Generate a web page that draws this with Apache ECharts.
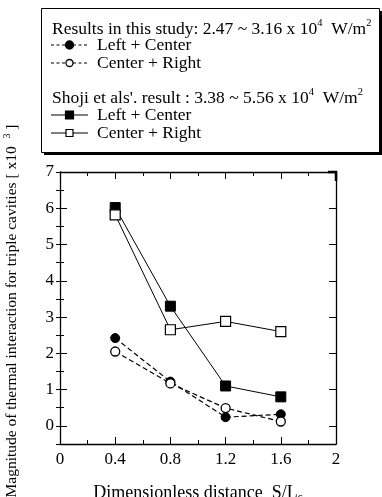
<!DOCTYPE html>
<html>
<head>
<meta charset="utf-8">
<style>
  html, body { margin: 0; padding: 0; background: #fff; }
  #chart { width: 382px; height: 497px; }
</style>
<script src="https://cdn.jsdelivr.net/npm/echarts@6/dist/echarts.min.js"></script>
</head>
<body>
<div id="chart"></div>
<script>
// distances S/Lc
const distances = [0.4, 0.8, 1.2, 1.6];
// this study
const studyLeftCenter = [2.42, 1.22, 0.24, 0.32];
const studyCenterRight = [2.05, 1.17, 0.49, 0.12];
// Shoji et al
const shojiLeftCenter = [6.02, 3.3, 1.1, 0.8];
const shojiCenterRight = [5.82, 2.65, 2.88, 2.6];
const yTicks = [0, 1, 2, 3, 4, 5, 6, 7];
const legendNames = ["Left + Center", "Center + Right"];

const FONT = "Liberation Serif";
const pairs = (ys) => distances.map((x, i) => [x, ys[i]]);

const chart = echarts.init(document.getElementById("chart"));

const tickBase = {
    inside: true,
    lineStyle: { color: "#000", width: 1 },
};
const minor = { show: true, splitNumber: 2, length: 4, lineStyle: { color: "#000", width: 1 } };
const axisLine = { onZero: false, lineStyle: { color: "#000", width: 1.3 } };

const supText = (str, top) => ({
    type: "text",
    left: 52,
    top: top,
    z: 3,
    style: {
        text: str,
        rich: {
            t: { fontFamily: FONT, fontSize: 17.5, fill: "#000", lineHeight: 20, verticalAlign: "bottom" },
            s: { fontFamily: FONT, fontSize: 10.5, fill: "#000", verticalAlign: "top", lineHeight: 20 },
        },
    },
});

// legend rows: icon from x 51 to 88, label from x 97
const legendRow = (y, label, dashed, symbol, filled) => ({
    type: "group",
    z: 3,
    children: [
        {
            type: "line",
            shape: { x1: 51, y1: y, x2: 88, y2: y },
            style: { stroke: "#000", lineWidth: 1.2, lineDash: dashed ? [3, 2.5] : null },
            z: 3,
        },
        symbol === "circle"
            ? {
                  type: "circle",
                  shape: { cx: 69.5, cy: y, r: filled ? 4 : 3.5 },
                  style: { fill: filled ? "#000" : "#fff", stroke: "#000", lineWidth: 1.3 },
                  z: 4,
              }
            : {
                  type: "rect",
                  shape: filled
                      ? { x: 65.5, y: y - 4, width: 8, height: 8 }
                      : { x: 66, y: y - 3.5, width: 7, height: 7 },
                  style: { fill: filled ? "#000" : "#fff", stroke: "#000", lineWidth: 1.2 },
                  z: 4,
              },
        {
            type: "text",
            x: 97,
            y: y,
            style: { text: label, fontFamily: FONT, fontSize: 17.5, fill: "#000", verticalAlign: "middle" },
            z: 4,
        },
    ],
});

const option = {
    animation: false,
    textStyle: { fontFamily: FONT, color: "#000" },
    grid: { left: 60, right: 46, top: 172, bottom: 53, outerBoundsMode: "none", containLabel: false },
    xAxis: [
        {
            type: "value",
            min: 0,
            max: 2,
            interval: 0.4,
            position: "bottom",
            splitLine: { show: false },
            axisLine: axisLine,
            axisTick: { ...tickBase, length: 7 },
            minorTick: minor,
            axisLabel: {
                fontFamily: FONT,
                fontSize: 17,
                color: "#000",
                margin: 7,
                formatter: (v) => String(+v.toFixed(1)),
            },
            name: "Dimensionless distance  S/L{sub|c}",
            nameLocation: "middle",
            nameGap: 40,
            nameTextStyle: {
                fontFamily: FONT,
                fontSize: 18,
                color: "#000",
                rich: { sub: { fontSize: 11, verticalAlign: "bottom", fontFamily: FONT, padding: [8, 0, 0, 0] } },
            },
        },
        {
            type: "value",
            min: 0,
            max: 2,
            interval: 0.4,
            position: "top",
            splitLine: { show: false },
            axisLine: axisLine,
            axisTick: { ...tickBase, length: 7 },
            minorTick: minor,
            axisLabel: { show: false },
        },
    ],
    yAxis: [
        {
            type: "value",
            min: -0.5,
            max: 7,
            position: "left",
            splitLine: { show: false },
            axisLine: axisLine,
            axisTick: { ...tickBase, length: 7, customValues: yTicks },
            axisLabel: {
                customValues: yTicks,
                fontFamily: FONT,
                fontSize: 17,
                color: "#000",
                margin: 6,
            },
        },
        {
            type: "value",
            min: -0.5,
            max: 7,
            interval: 0.5,
            position: "left",
            splitLine: { show: false },
            axisLine: { show: false },
            axisTick: { ...tickBase, length: 4 },
            axisLabel: { show: false },
        },
        {
            type: "value",
            min: -0.5,
            max: 7,
            position: "right",
            splitLine: { show: false },
            axisLine: axisLine,
            axisTick: { ...tickBase, length: 7, customValues: yTicks },
            axisLabel: { show: false },
        },
        {
            type: "value",
            min: -0.5,
            max: 7,
            interval: 0.5,
            position: "right",
            splitLine: { show: false },
            axisLine: { show: false },
            axisTick: { ...tickBase, length: 4 },
            axisLabel: { show: false },
        },
    ],
    graphic: [
        // legend box with drop shadow
        { type: "rect", left: 44, top: 11, shape: { width: 338, height: 144 }, style: { fill: "#000" }, z: 0 },
        { type: "rect", left: 41, top: 8, shape: { width: 338, height: 144 }, style: { fill: "#fff", stroke: "#000", lineWidth: 1 }, z: 1 },
        supText("{t|Results in this study: 2.47 ~ 3.16 x 10}{s|4}{t|  W/m}{s|2}", 18),
        legendRow(45, legendNames[0], true, "circle", true),
        legendRow(63, legendNames[1], true, "circle", false),
        supText("{t|Shoji et als'. result : 3.38 ~ 5.56 x 10}{s|4}{t|  W/m}{s|2}", 87),
        legendRow(115, legendNames[0], false, "rect", true),
        legendRow(133, legendNames[1], false, "rect", false),
        // heavier frame corner at top right, as in the original plot
        {
            type: "polyline",
            z: 6,
            shape: { points: [[328, 172], [336, 172], [336, 181]] },
            style: { stroke: "#000", lineWidth: 2.5, fill: null },
        },
        // y axis title
        {
            type: "text",
            x: 11,
            y: 311,
            rotation: Math.PI / 2,
            z: 3,
            style: {
                text: "{t|Magnitude of thermal interaction for triple cavities [ x10  }{s|3}{t| ]}",
                align: "center",
                verticalAlign: "middle",
                rich: {
                    t: { fontFamily: FONT, fontSize: 15.5, fill: "#000", lineHeight: 18, verticalAlign: "bottom" },
                    s: { fontFamily: FONT, fontSize: 10, fill: "#000", lineHeight: 18, verticalAlign: "top" },
                },
            },
        },
    ],
    series: [
        {
            name: "Left + Center (this study)",
            type: "line",
            data: pairs(studyLeftCenter),
            symbol: "circle",
            symbolSize: 9,
            itemStyle: { color: "#000", borderColor: "#000" },
            lineStyle: { color: "#000", width: 1.2, type: [5, 3] },
            z: 5,
        },
        {
            name: "Center + Right (this study)",
            type: "line",
            data: pairs(studyCenterRight),
            symbol: "circle",
            symbolSize: 9,
            itemStyle: { color: "#fff", borderColor: "#000", borderWidth: 1.3 },
            lineStyle: { color: "#000", width: 1.2, type: [5, 3] },
            z: 5,
        },
        {
            name: "Left + Center (Shoji)",
            type: "line",
            data: pairs(shojiLeftCenter),
            symbol: "rect",
            symbolSize: 10,
            itemStyle: { color: "#000", borderColor: "#000" },
            lineStyle: { color: "#000", width: 1 },
            z: 5,
        },
        {
            name: "Center + Right (Shoji)",
            type: "line",
            data: pairs(shojiCenterRight),
            symbol: "rect",
            symbolSize: 10,
            itemStyle: { color: "#fff", borderColor: "#000", borderWidth: 1.2 },
            lineStyle: { color: "#000", width: 1 },
            z: 5,
        },
    ],
};

chart.setOption(option);
</script>
</body>
</html>
